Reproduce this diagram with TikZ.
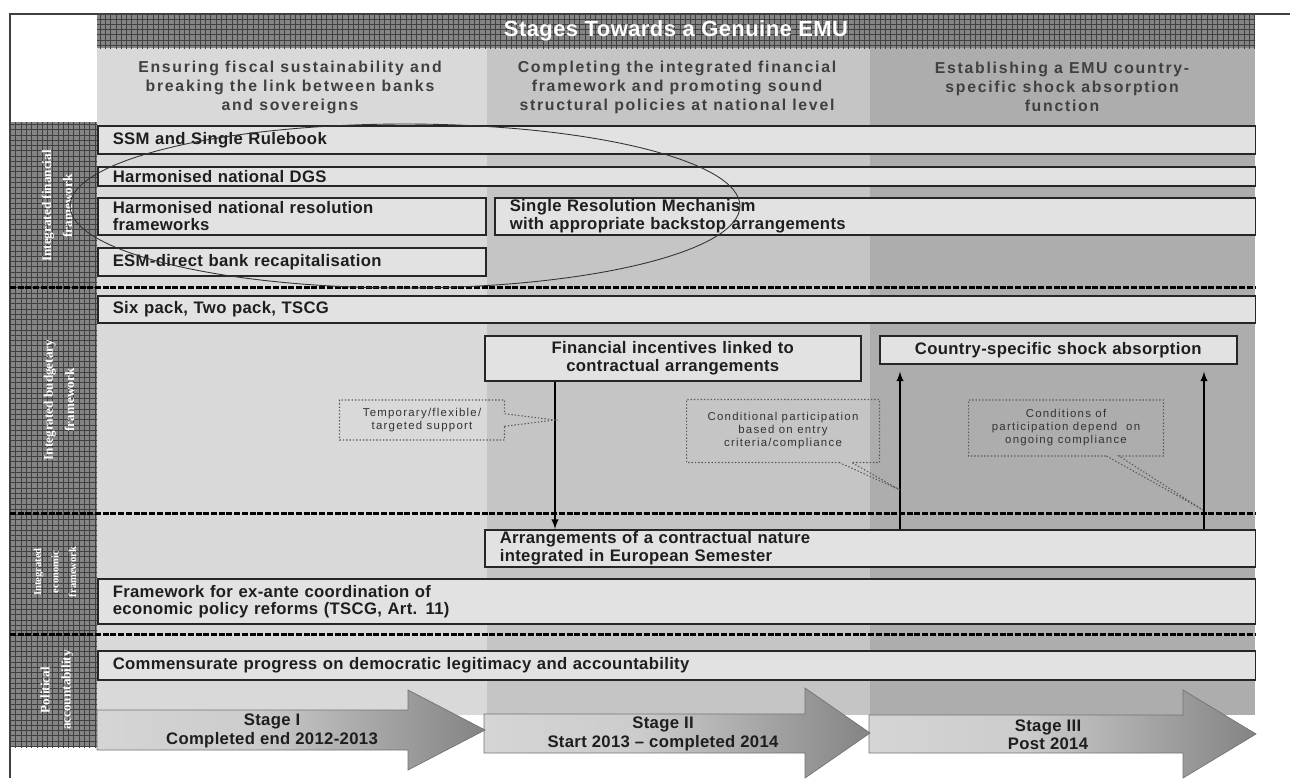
\documentclass[tikz,border=0pt]{standalone}
\usepackage{fontspec}
\setmainfont{Liberation Sans}
\newfontfamily\boxfont[LetterSpace=2]{Liberation Sans}
\newfontfamily\headfont[LetterSpace=11]{Liberation Sans}
\newfontfamily\sideserif{Liberation Serif}
\usetikzlibrary{patterns,shapes.callouts}

\definecolor{colone}{HTML}{D9D9D9}
\definecolor{coltwo}{HTML}{C5C5C5}
\definecolor{colthree}{HTML}{ADADAD}
\definecolor{boxfill}{HTML}{E2E2E2}
\definecolor{inktext}{HTML}{1E1E1E}
\definecolor{headink}{HTML}{404040}
\definecolor{hatch}{HTML}{858585}
\pgfdeclarehorizontalshading{stagefade}{100bp}{color(0bp)=(black!12); color(45bp)=(black!20); color(100bp)=(black!72)}

\tikzset{
  rowbox/.style={draw=black!85, line width=0.9pt, fill=boxfill, anchor=north west,
    inner xsep=0.3cm, inner ysep=0pt, align=left, text=inktext,
    font=\boxfont\bfseries\fontsize{9.5}{9.8}\selectfont},
  midbox/.style={rowbox, align=center},
  coltext/.style={align=center, text=headink, font=\headfont\bfseries\fontsize{9}{10.8}\selectfont},
  note/.style={rectangle callout, draw=black!65, dash pattern=on 0.8pt off 1.1pt,
    line width=0.6pt, align=center, inner sep=0pt, text=black!80,
    font=\headfont\fontsize{6.5}{7.4}\selectfont},
  sidetext/.style={rotate=90, align=center, text=white,
    font=\sideserif\bfseries\fontsize{7.5}{12}\selectfont},
  sepline/.style={line width=1.7pt, dash pattern=on 3.4pt off 1pt},
  stagearrow/.style={draw=black!55, line width=0.4pt, shading=stagefade},
  stagetext/.style={align=center, text=inktext, font=\boxfont\bfseries\fontsize{9.5}{10.4}\selectfont},
  link/.style={-latex, line width=0.9pt}
}

\begin{document}
\begin{tikzpicture}[x=0.02cm, y=-0.02cm]
\useasboundingbox (0,0) rectangle (1290,778);

\fill[colone] (97,48) rectangle (487,715);
\fill[coltwo] (487,48) rectangle (870,715);
\fill[colthree] (870,48) rectangle (1255,715);

\fill[hatch] (97,14) rectangle (1255,48);
\fill[pattern=grid, pattern color=black!75] (97,14) rectangle (1255,48);
\fill[hatch] (10,122) rectangle (97,747);
\fill[pattern=grid, pattern color=black!75] (10,122) rectangle (97,747);
\draw[line width=0.8pt, black!75] (1290,14) -- (10,14) -- (10,778);

\node[font=\boxfont\bfseries\fontsize{12.5}{14}\selectfont, text=white] (title) at (676,31) {Stages Towards a Genuine EMU};
\node[coltext] (headA) at (290,87) {Ensuring fiscal sustainability and\\breaking the link between banks\\and sovereigns};
\node[coltext] (headB) at (677,87) {Completing the integrated financial\\framework and promoting sound\\structural policies at national level};
\node[coltext] (headC) at (1062,87) {Establishing a EMU country-\\specific shock absorption\\function};

\node[sidetext] (lblfin) at (57,206) {Integrated financial\\framework};
\node[sidetext] (lblbud) at (59,400) {Integrated budgetary\\framework};
\node[sidetext, font=\sideserif\bfseries\fontsize{6}{10}\selectfont] (lbleco) at (55,572) {Integrated\\economic\\framework};
\node[sidetext] (lblpol) at (57,690) {Political\\accountability};

\draw[sepline] (10,287) -- (1255,287);
\draw[sepline] (10,513) -- (1255,513);
\draw[sepline] (10,634) -- (1255,634);

\node[rowbox, text width=22.56cm, minimum height=0.56cm] (ssm) at (97,125) {SSM and Single Rulebook};
\node[rowbox, text width=22.56cm, minimum height=0.38cm] (dgs) at (97,166) {Harmonised national DGS};
\node[rowbox, text width=7.16cm, minimum height=0.74cm] (hnrf) at (97,197) {Harmonised national resolution\\frameworks};
\node[rowbox, text width=14.62cm, minimum height=0.74cm] (srm) at (494,197) {Single Resolution Mechanism\\with appropriate backstop arrangements};
\node[rowbox, text width=7.16cm, minimum height=0.56cm] (esm) at (97,247) {ESM-direct bank recapitalisation};
\node[rowbox, text width=22.56cm, minimum height=0.54cm] (six) at (97,295) {Six pack, Two pack, TSCG};
\node[midbox, text width=6.92cm, minimum height=0.9cm] (fin) at (484,335) {Financial incentives linked to\\contractual arrangements};
\node[midbox, text width=6.54cm, minimum height=0.56cm] (cty) at (879,335) {Country-specific shock absorption};
\node[rowbox, text width=14.82cm, minimum height=0.74cm] (arr) at (484,529) {Arrangements of a contractual nature\\integrated in European Semester};
\node[rowbox, text width=22.56cm, minimum height=0.9cm] (exante) at (97,578) {Framework for ex-ante coordination of\\economic policy reforms (TSCG, Art. 11)};
\node[rowbox, text width=22.56cm, minimum height=0.58cm] (demo) at (97,650) {Commensurate progress on democratic legitimacy and accountability};

\coordinate (downx) at (555,0);
\coordinate (upa) at (900,0);
\coordinate (upb) at (1204,0);
\draw[link] (fin.south -| downx) -- (arr.north -| downx);
\draw[link, shorten >=0.14cm] (arr.north -| upa) -- (cty.south -| upa);
\draw[link, shorten >=0.14cm] (arr.north -| upb) -- (cty.south -| upb);

\coordinate (tipA) at (555,420);
\coordinate (tipB) at (900,490);
\coordinate (tipC) at (1203,510);
\node[note, minimum width=3.3cm, minimum height=0.8cm, callout absolute pointer={(tipA)}] (tempsup) at (422,420) {Temporary/flexible/\\targeted support};
\node[note, minimum width=3.86cm, minimum height=1.26cm, callout absolute pointer={(tipB)}] (condpart) at (783,431) {Conditional participation\\based on entry\\criteria/compliance};
\node[note, minimum width=3.9cm, minimum height=1.12cm, callout absolute pointer={(tipC)}] (condcomp) at (1066,428) {Conditions of\\participation depend~ on\\ongoing compliance};

\draw[line width=0.5pt, black!80] (405,206) ellipse [x radius=6.7cm, y radius=1.64cm];

\path[stagearrow] (869,715) -- (1183,715) -- (1183,690) -- (1256,734) -- (1183,778) -- (1183,753) -- (869,753) -- cycle;
\path[stagearrow] (484,714) -- (805,714) -- (805,688) -- (870,733) -- (805,778) -- (805,753) -- (484,753) -- cycle;
\path[stagearrow] (97,710) -- (408,710) -- (408,690) -- (485,730) -- (408,770) -- (408,750) -- (97,750) -- cycle;
\node[stagetext] (stageI) at (272,731) {Stage I\\Completed end 2012-2013};
\node[stagetext] (stageII) at (663,734) {Stage II\\Start 2013 – completed 2014};
\node[stagetext] (stageIII) at (1048,735) {Stage III\\Post 2014};
\end{tikzpicture}
\end{document}
